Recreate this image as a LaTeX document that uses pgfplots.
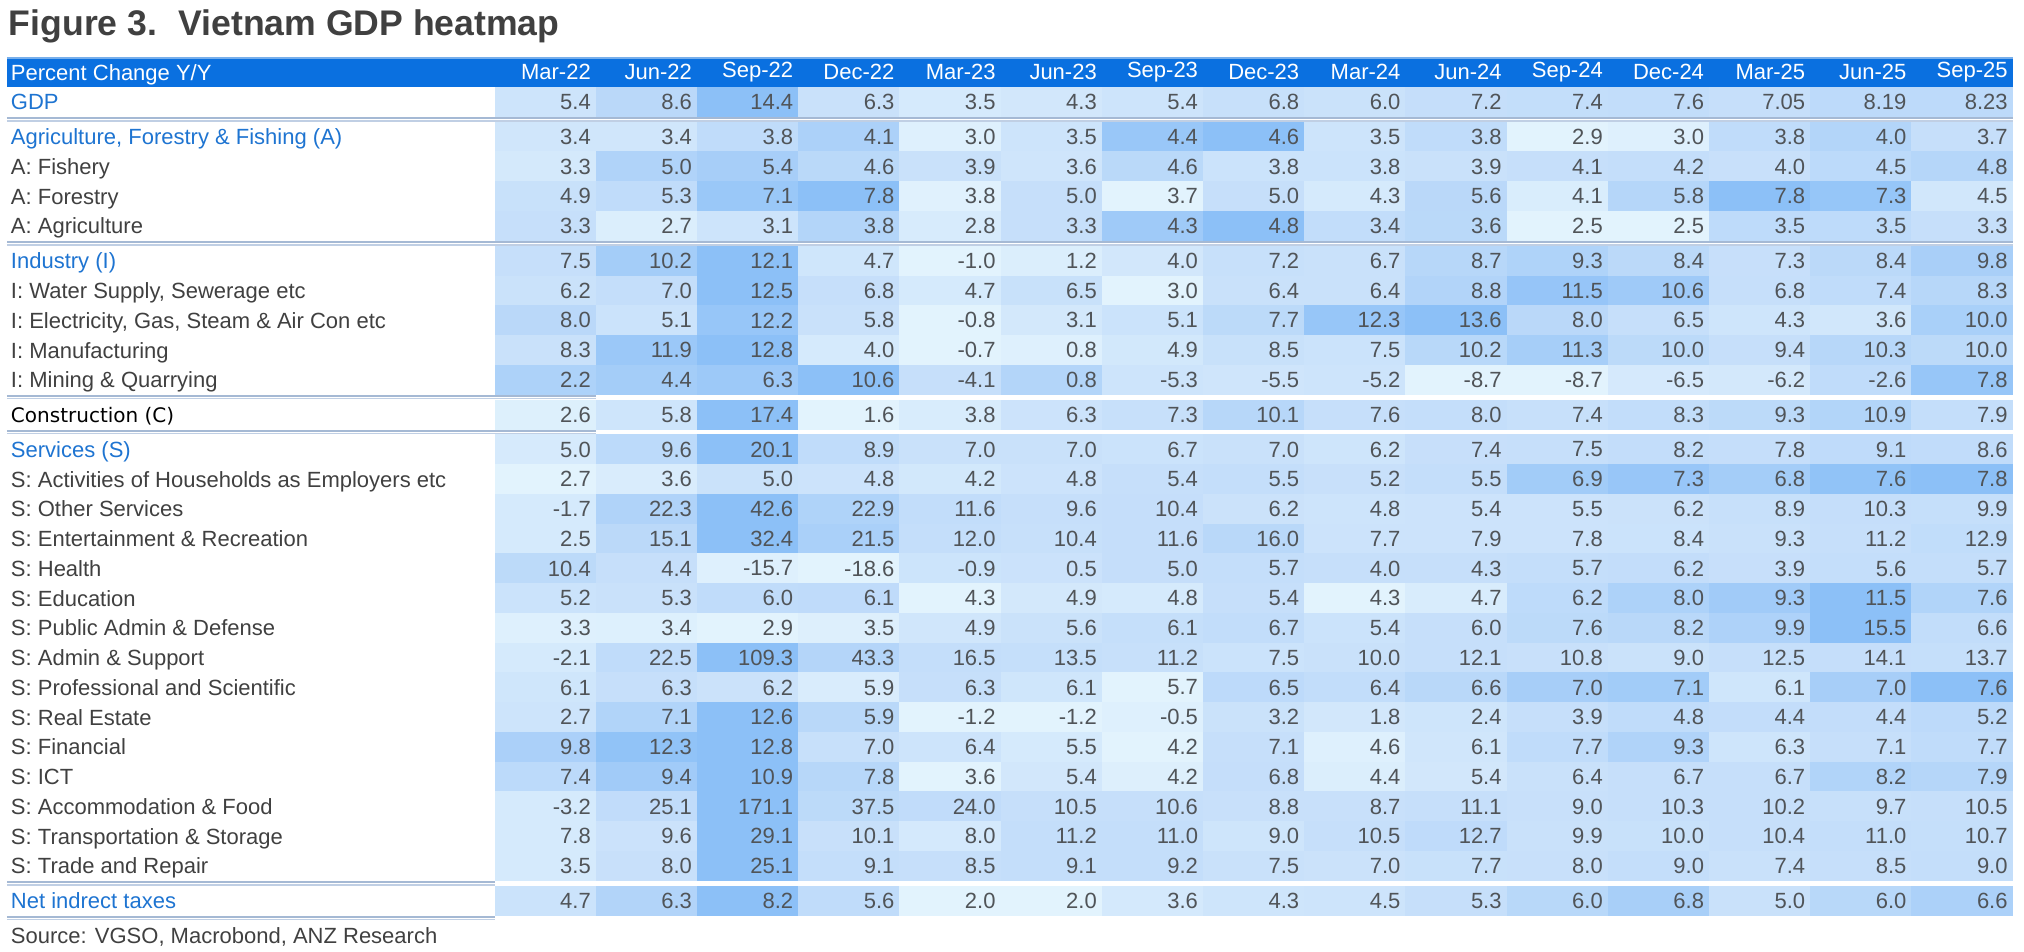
\documentclass[border=0pt]{standalone}
\usepackage{fontspec}
\setmainfont{Liberation Sans}
\newfontfamily\cfont{DejaVu Sans}
\usepackage{pgfplots}
\pgfplotsset{compat=1.18}
\definecolor{hdrblue}{RGB}{10,112,224}
\definecolor{hdrtop}{RGB}{120,175,235}
\definecolor{grpblue}{RGB}{30,116,209}
\definecolor{lblgray}{RGB}{64,64,64}
\definecolor{numgray}{RGB}{80,84,88}
\definecolor{sepA}{RGB}{165,185,212}
\definecolor{sepB}{RGB}{192,207,228}
\definecolor{cmin}{RGB}{226,243,253}
\definecolor{cmid}{RGB}{198,223,250}
\definecolor{cmax}{RGB}{140,192,247}
% colour-scale anchors for a row (low/mid/high) -> three-colour scale for each cell
\def\splitstats#1/#2/#3\relax{\def\rmin{#1}\def\rmed{#2}\def\rmax{#3}}
\pgfdeclareplotmark{cell}{%
  \expandafter\splitstats\rstats\relax
  \ifdim\lbl pt>\rmed pt
    \pgfmathsetmacro\tf{100*(\lbl-\rmed)/(\rmax-\rmed)}\colorlet{cellc}{cmax!\tf!cmid}%
  \else
    \pgfmathsetmacro\tf{100*(\lbl-\rmin)/(\rmed-\rmin)}\colorlet{cellc}{cmid!\tf!cmin}%
  \fi
  \pgfsetfillcolor{cellc}%
  \pgfpathrectangle{\pgfqpoint{-25.45pt}{-7.55pt}}{\pgfqpoint{50.9pt}{15.1pt}}\pgfusepathqfill}
\pgfplotsset{
  hm/.style={only marks, mark=cell,
    nodes near coords={\lbl},
    visualization depends on={value \thisrowno{0}\as\lbl},
    visualization depends on={value #1\as\rstats}},
  /pgfplots/table/rt/.style={x expr=\coordindex, header=false, row sep=\\},
}
\newcommand{\dline}[3]{%
  \draw[sepA, line width=1pt] (axis cs:#2,#1-0.05) -- (axis cs:#3,#1-0.05);
  \draw[sepB, line width=0.7pt] (axis cs:#2,#1+0.05) -- (axis cs:#3,#1+0.05);}
\begin{document}
\begin{tikzpicture}
\begin{axis}[
  x=50.6pt, y=14.875pt, y dir=reverse,
  xmin=-5.322, xmax=14.5, ymin=-1.5, ymax=27.6,
  clip=false, axis on top,
  axis line style={draw=none}, tick style={draw=none}, major tick length=0pt,
  xtick=\empty,
  ytick={-1,0,1.17,2.17,3.17,4.17,5.34,6.34,7.34,8.34,9.34,10.51,11.68,12.68,13.68,14.68,15.68,16.68,17.68,18.68,19.68,20.68,21.68,22.68,23.68,24.68,25.68,26.85},
  yticklabels={{\color{white}Percent Change Y/Y},{\color{grpblue}GDP},{\color{grpblue}Agriculture, Forestry \& Fishing (A)},{A: Fishery},{A: Forestry},{A: Agriculture},{\color{grpblue}Industry (I)},{I: Water Supply, Sewerage etc},{I: Electricity, Gas, Steam \& Air Con etc},{I: Manufacturing},{I: Mining \& Quarrying},{\cfont\fontsize{10}{12}\selectfont\color{black}Construction (C)},{\color{grpblue}Services (S)},{S: Activities of Households as Employers etc},{S: Other Services},{S: Entertainment \& Recreation},{S: Health},{S: Education},{S: Public Admin \& Defense},{S: Admin \& Support},{S: Professional and Scientific},{S: Real Estate},{S: Financial},{S: ICT},{S: Accommodation \& Food},{S: Transportation \& Storage},{S: Trade and Repair},{\color{grpblue}Net indrect taxes}},
  yticklabel style={anchor=base west, inner sep=0pt, xshift=1.8pt, yshift=-3.95pt, font=\fontsize{11}{13}\selectfont, text=lblgray},
  every node near coord/.append style={anchor=east, inner sep=0pt, xshift=22.8pt, yshift=0pt, font=\fontsize{11}{13}\selectfont, text=numgray},
]
\draw[draw=none] (axis cs:-5.391,-3.429) rectangle (axis cs:14.609,28.54);
\fill[hdrblue] (axis cs:-5.322,-1.5) rectangle (axis cs:14.5,-0.5);
\draw[hdrtop, line width=0.8pt] (axis cs:-5.322,-1.47) -- (axis cs:14.5,-1.47);

\addplot[draw=none, mark=none, nodes near coords={\lbl}, visualization depends on={value \thisrowno{0}\as\lbl}, every node near coord/.append style={text=white}]
  table[x expr=\coordindex, y expr=-1, header=false, row sep=\\] {Mar-22\\Jun-22\\Sep-22\\Dec-22\\Mar-23\\Jun-23\\Sep-23\\Dec-23\\Mar-24\\Jun-24\\Sep-24\\Dec-24\\Mar-25\\Jun-25\\Sep-25\\};

% hm={scale low/scale mid/scale high}
\addplot[hm={0.5/7.05/14.4}] table[rt, y expr=0] {5.4\\8.6\\14.4\\6.3\\3.5\\4.3\\5.4\\6.8\\6.0\\7.2\\7.4\\7.6\\7.05\\8.19\\8.23\\};
\addplot[hm={2.9/3.7/4.6}] table[rt, y expr=1.17] {3.4\\3.4\\3.8\\4.1\\3.0\\3.5\\4.4\\4.6\\3.5\\3.8\\2.9\\3.0\\3.8\\4.0\\3.7\\};
\addplot[hm={2.5/4.1/6.5}] table[rt, y expr=2.17] {3.3\\5.0\\5.4\\4.6\\3.9\\3.6\\4.6\\3.8\\3.8\\3.9\\4.1\\4.2\\4.0\\4.5\\4.8\\};
\addplot[hm={3.7/5.0/7.8}] table[rt, y expr=3.17] {4.9\\5.3\\7.1\\7.8\\3.8\\5.0\\3.7\\5.0\\4.3\\5.6\\4.1\\5.8\\7.8\\7.3\\4.5\\};
\addplot[hm={2.5/3.3/4.8}] table[rt, y expr=4.17] {3.3\\2.7\\3.1\\3.8\\2.8\\3.3\\4.3\\4.8\\3.4\\3.6\\2.5\\2.5\\3.5\\3.5\\3.3\\};
\addplot[hm={-1.0/7.5/12.1}] table[rt, y expr=5.34] {7.5\\10.2\\12.1\\4.7\\-1.0\\1.2\\4.0\\7.2\\6.7\\8.7\\9.3\\8.4\\7.3\\8.4\\9.8\\};
\addplot[hm={3.0/6.8/12.5}] table[rt, y expr=6.34] {6.2\\7.0\\12.5\\6.8\\4.7\\6.5\\3.0\\6.4\\6.4\\8.8\\11.5\\10.6\\6.8\\7.4\\8.3\\};
\addplot[hm={-0.8/6.5/13.6}] table[rt, y expr=7.34] {8.0\\5.1\\12.2\\5.8\\-0.8\\3.1\\5.1\\7.7\\12.3\\13.6\\8.0\\6.5\\4.3\\3.6\\10.0\\};
\addplot[hm={-0.7/9.4/12.8}] table[rt, y expr=8.34] {8.3\\11.9\\12.8\\4.0\\-0.7\\0.8\\4.9\\8.5\\7.5\\10.2\\11.3\\10.0\\9.4\\10.3\\10.0\\};
\addplot[hm={-8.7/-4.1/10.6}] table[rt, y expr=9.34] {2.2\\4.4\\6.3\\10.6\\-4.1\\0.8\\-5.3\\-5.5\\-5.2\\-8.7\\-8.7\\-6.5\\-6.2\\-2.6\\7.8\\};
\addplot[hm={1.6/7.6/17.4}] table[rt, y expr=10.51] {2.6\\5.8\\17.4\\1.6\\3.8\\6.3\\7.3\\10.1\\7.6\\8.0\\7.4\\8.3\\9.3\\10.9\\7.9\\};
\addplot[hm={3.0/7.5/20.1}] table[rt, y expr=11.68] {5.0\\9.6\\20.1\\8.9\\7.0\\7.0\\6.7\\7.0\\6.2\\7.4\\7.5\\8.2\\7.8\\9.1\\8.6\\};
\addplot[hm={2.7/5.4/7.8}] table[rt, y expr=12.68] {2.7\\3.6\\5.0\\4.8\\4.2\\4.8\\5.4\\5.5\\5.2\\5.5\\6.9\\7.3\\6.8\\7.6\\7.8\\};
\addplot[hm={-10.9/9.6/42.6}] table[rt, y expr=13.68] {-1.7\\22.3\\42.6\\22.9\\11.6\\9.6\\10.4\\6.2\\4.8\\5.4\\5.5\\6.2\\8.9\\10.3\\9.9\\};
\addplot[hm={-4.6/11.2/32.4}] table[rt, y expr=14.68] {2.5\\15.1\\32.4\\21.5\\12.0\\10.4\\11.6\\16.0\\7.7\\7.9\\7.8\\8.4\\9.3\\11.2\\12.9\\};
\addplot[hm={-18.6/4.4/39.7}] table[rt, y expr=15.68] {10.4\\4.4\\-15.7\\-18.6\\-0.9\\0.5\\5.0\\5.7\\4.0\\4.3\\5.7\\6.2\\3.9\\5.6\\5.7\\};
\addplot[hm={4.3/5.4/11.5}] table[rt, y expr=16.68] {5.2\\5.3\\6.0\\6.1\\4.3\\4.9\\4.8\\5.4\\4.3\\4.7\\6.2\\8.0\\9.3\\11.5\\7.6\\};
\addplot[hm={2.9/6.0/15.5}] table[rt, y expr=17.68] {3.3\\3.4\\2.9\\3.5\\4.9\\5.6\\6.1\\6.7\\5.4\\6.0\\7.6\\8.2\\9.9\\15.5\\6.6\\};
\addplot[hm={-14.0/12.5/109.3}] table[rt, y expr=18.68] {-2.1\\22.5\\109.3\\43.3\\16.5\\13.5\\11.2\\7.5\\10.0\\12.1\\10.8\\9.0\\12.5\\14.1\\13.7\\};
\addplot[hm={5.7/6.3/7.6}] table[rt, y expr=19.68] {6.1\\6.3\\6.2\\5.9\\6.3\\6.1\\5.7\\6.5\\6.4\\6.6\\7.0\\7.1\\6.1\\7.0\\7.6\\};
\addplot[hm={-1.2/3.9/12.6}] table[rt, y expr=20.68] {2.7\\7.1\\12.6\\5.9\\-1.2\\-1.2\\-0.5\\3.2\\1.8\\2.4\\3.9\\4.8\\4.4\\4.4\\5.2\\};
\addplot[hm={4.2/7.1/12.8}] table[rt, y expr=21.68] {9.8\\12.3\\12.8\\7.0\\6.4\\5.5\\4.2\\7.1\\4.6\\6.1\\7.7\\9.3\\6.3\\7.1\\7.7\\};
\addplot[hm={3.6/6.7/10.9}] table[rt, y expr=22.68] {7.4\\9.4\\10.9\\7.8\\3.6\\5.4\\4.2\\6.8\\4.4\\5.4\\6.4\\6.7\\6.7\\8.2\\7.9\\};
\addplot[hm={-14.4/10.5/171.1}] table[rt, y expr=23.68] {-3.2\\25.1\\171.1\\37.5\\24.0\\10.5\\10.6\\8.8\\8.7\\11.1\\9.0\\10.3\\10.2\\9.7\\10.5\\};
\addplot[hm={5.7/10.4/29.1}] table[rt, y expr=24.68] {7.8\\9.6\\29.1\\10.1\\8.0\\11.2\\11.0\\9.0\\10.5\\12.7\\9.9\\10.0\\10.4\\11.0\\10.7\\};
\addplot[hm={-0.6/8.5/25.1}] table[rt, y expr=25.68] {3.5\\8.0\\25.1\\9.1\\8.5\\9.1\\9.2\\7.5\\7.0\\7.7\\8.0\\9.0\\7.4\\8.5\\9.0\\};
\addplot[hm={2.0/5.3/8.2}] table[rt, y expr=26.85] {4.7\\6.3\\8.2\\5.6\\2.0\\2.0\\3.6\\4.3\\4.5\\5.3\\6.0\\6.8\\5.0\\6.0\\6.6\\};

\dline{0.585}{-5.322}{14.5}
\dline{4.755}{-5.322}{14.5}
\dline{9.925}{-5.322}{0.5}
\dline{11.095}{-5.322}{0.5}
\dline{26.265}{-5.322}{-0.5}
\dline{27.43}{-5.322}{-0.5}

\node[anchor=base west, inner sep=0pt, xshift=0.8pt, font=\fontsize{17.8}{21}\selectfont\bfseries, text=lblgray] at (axis cs:-5.322,-2.252) {Figure 3.\hspace{10.5pt}Vietnam GDP heatmap};
\node[anchor=base west, inner sep=0pt, xshift=1.8pt, font=\fontsize{11}{13}\selectfont, text=lblgray] at (axis cs:-5.322,28.30) {Source: VGSO, Macrobond, ANZ Research};
\end{axis}
\end{tikzpicture}
\end{document}
